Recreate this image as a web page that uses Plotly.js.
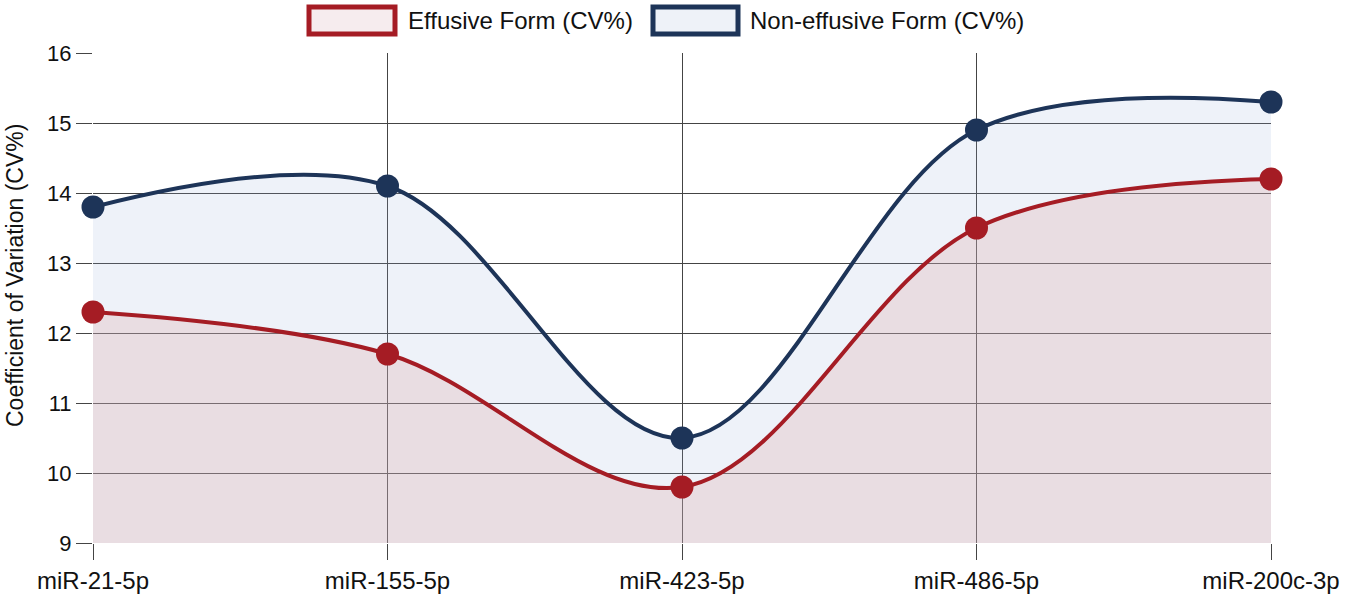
<!DOCTYPE html>
<html>
<head>
<meta charset="utf-8">
<script src="https://cdn.plot.ly/plotly-3.0.1.min.js"></script>
<style>
  html, body { margin: 0; padding: 0; background: #fff; }
  #chart { width: 1346px; height: 596px; }
</style>
</head>
<body>
<div id="chart"></div>
<script>
// chart data
const categories = ['miR-21-5p', 'miR-155-5p', 'miR-423-5p', 'miR-486-5p', 'miR-200c-3p'];
const effusiveCV = [12.3, 11.7, 9.8, 13.5, 14.2];
const nonEffusiveCV = [13.8, 14.1, 10.5, 14.9, 15.3];
const seriesNames = ['Effusive Form (CV%)', 'Non-effusive Form (CV%)'];
const yTitle = 'Coefficient of Variation (CV%)';

const RED = '#a51c24';
const NAVY = '#1d3458';
const FONT = 'Liberation Sans, Arial, sans-serif';

const effusive = {
  x: categories, y: effusiveCV, name: seriesNames[0],
  type: 'scatter', mode: 'lines+markers',
  line: { color: RED, width: 4, shape: 'spline', smoothing: 1 },
  marker: { color: RED, size: 23 },
  fill: 'tozeroy', fillcolor: 'rgba(200,170,182,0.4)',
  cliponaxis: false, showlegend: false
};

const nonEffusive = {
  x: categories, y: nonEffusiveCV, name: seriesNames[1],
  type: 'scatter', mode: 'lines+markers',
  line: { color: NAVY, width: 4, shape: 'spline', smoothing: 1 },
  marker: { color: NAVY, size: 23 },
  fill: 'tonexty', fillcolor: 'rgba(150,175,215,0.16)',
  cliponaxis: false, showlegend: false
};

// legend drawn as paper-space boxes + labels
const plotL = 93, plotW = 1346 - 93 - 75;
const plotT = 53, plotH = 596 - 53 - 53;
const px = v => (v - plotL) / plotW;
const py = v => 1 - (v - plotT) / plotH;

const legendBoxes = [
  { x0: 309, x1: 395, line: RED, fill: '#f6ecee' },
  { x0: 653, x1: 738, line: NAVY, fill: '#eef2f8' }
];
const legendTextX = [406, 748];

const shapes = legendBoxes.map(b => ({
  type: 'rect', xref: 'paper', yref: 'paper',
  x0: px(b.x0), x1: px(b.x1), y0: py(34), y1: py(7),
  line: { color: b.line, width: 5 }, fillcolor: b.fill, layer: 'above'
}));

const annotations = seriesNames.map((t, i) => ({
  text: t, xref: 'paper', yref: 'paper',
  x: px(legendTextX[i]), y: py(20), xanchor: 'left', yanchor: 'middle',
  showarrow: false, font: { family: FONT, size: 24, color: '#111' }
}));

// y title sits a bit above the plot centre in the original
annotations.push({
  text: yTitle, xref: 'paper', yref: 'paper',
  x: px(15), y: py(276), xanchor: 'center', yanchor: 'middle', textangle: -90,
  showarrow: false, font: { family: FONT, size: 23, color: '#111' }
});

const layout = {
  width: 1346, height: 596,
  margin: { l: plotL, r: 75, t: plotT, b: 53 },
  paper_bgcolor: 'white', plot_bgcolor: 'white',
  font: { family: FONT, color: '#111' },
  xaxis: {
    type: 'category', range: [0, 4], autorange: false,
    showgrid: true, gridcolor: '#444', gridwidth: 1,
    ticks: 'outside', ticklen: 16, tickcolor: '#444',
    tickfont: { size: 24, color: '#111' },
    showline: false, zeroline: false, fixedrange: true
  },
  yaxis: {
    range: [9, 16], autorange: false, dtick: 1,
    showgrid: true, gridcolor: '#444', gridwidth: 1,
    ticks: 'outside', ticklen: 16, tickcolor: '#444',
    tickfont: { size: 22, color: '#111' },
    showline: false, zeroline: false, fixedrange: true
  },
  shapes: shapes,
  annotations: annotations
};

Plotly.newPlot('chart', [effusive, nonEffusive], layout, { displayModeBar: false, staticPlot: true });
</script>
</body>
</html>
